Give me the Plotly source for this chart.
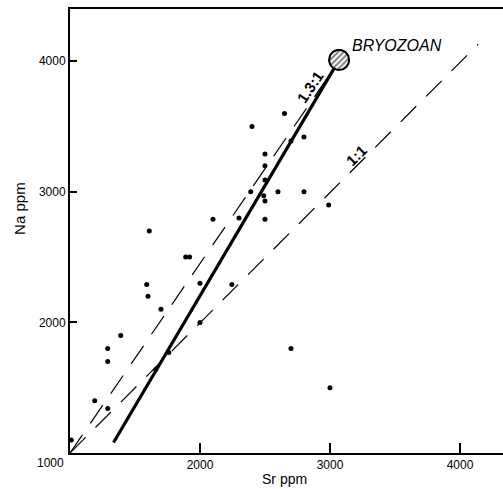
import numpy as np
import plotly.graph_objects as go

# Sample analyses: Sr and Na contents (ppm)
sr_ppm = [1010, 1190, 1290, 1290, 1290, 1390, 1590, 1600, 1610, 1660, 1700,
          1760, 1890, 1920, 2000, 2000, 2100, 2245, 2300, 2390, 2400, 2490,
          2500, 2500, 2500, 2500, 2500, 2600, 2650, 2700, 2700, 2800, 2800,
          2990, 3000]
na_ppm = [1100, 1400, 1340, 1700, 1800, 1900, 2290, 2200, 2700, 1640, 2100,
          1770, 2500, 2500, 2000, 2300, 2790, 2290, 2800, 3000, 3500, 2970,
          2790, 2930, 3090, 3200, 3290, 3000, 3600, 3390, 1800, 3420, 3000,
          2900, 1500]

# Bryozoan end-member composition
bryozoan_sr = 3070
bryozoan_na = 4010

# Reference lines (Sr, Na end points)
line_1to1_sr = [1000, 4140]
line_1to1_na = [1000, 4130]
line_13_sr = [1000, 3030]
line_13_na = [1000, 3945]
trend_sr = [1335, bryozoan_sr]
trend_na = [1080, bryozoan_na]

x_range = [1000, 4331]
y_range = [1000, 4400]
tick_vals = [2000, 3000, 4000]
tick_text = ["2000", "3000", "4000"]

FONT = "Liberation Sans, Arial, sans-serif"

fig = go.Figure()

dash = "22px,14px"
fig.add_trace(go.Scatter(x=line_1to1_sr, y=line_1to1_na, mode="lines",
                         line=dict(color="black", width=1.2, dash=dash),
                         hoverinfo="skip"))
fig.add_trace(go.Scatter(x=line_13_sr, y=line_13_na, mode="lines",
                         line=dict(color="black", width=1.2, dash=dash),
                         hoverinfo="skip"))
fig.add_trace(go.Scatter(x=trend_sr, y=trend_na, mode="lines",
                         line=dict(color="black", width=3.2),
                         hoverinfo="skip"))

fig.add_trace(go.Scatter(x=sr_ppm, y=na_ppm, mode="markers",
                         marker=dict(color="black", size=5),
                         hoverinfo="x+y"))

# Hatched circle for the bryozoan composition (radius in axis units)
r_sr, r_na = 77, 77
theta = np.linspace(0, 2 * np.pi, 73)
fig.add_trace(go.Scatter(
    x=bryozoan_sr + r_sr * np.cos(theta),
    y=bryozoan_na + r_na * np.sin(theta),
    mode="lines", fill="toself",
    line=dict(color="black", width=2),
    fillcolor="white",
    fillpattern=dict(shape="/", size=4, solidity=0.5,
                     fgcolor="black", bgcolor="white"),
    hoverinfo="skip"))

annotations = [
    dict(x=3154, y=4124, text="<i>BRYOZOAN</i>", showarrow=False,
         xanchor="left", yanchor="middle",
         font=dict(family=FONT, size=16, color="black")),
    dict(x=2850, y=3805, text="<b>1.3:1</b>", showarrow=False,
         textangle=-56, font=dict(family=FONT, size=15, color="black")),
    dict(x=3200, y=3282, text="<b>1:1</b>", showarrow=False,
         textangle=-45, font=dict(family=FONT, size=15, color="black")),
    dict(x=1000, y=1000, text="1000", showarrow=False,
         xanchor="center", yanchor="middle", xshift=-20, yshift=-10,
         font=dict(family=FONT, size=12, color="black")),
    dict(xref="paper", yref="paper", x=0.4965, y=-0.0586, text="Sr ppm",
         showarrow=False, xanchor="center", yanchor="middle",
         font=dict(family=FONT, size=14, color="black")),
    dict(xref="paper", yref="paper", x=-0.1155, y=0.552, text="Na ppm",
         showarrow=False, textangle=-90, xanchor="center", yanchor="middle",
         font=dict(family=FONT, size=15, color="black")),
]

fig.update_layout(
    width=503, height=489,
    margin=dict(l=70, r=0, t=9, b=36),
    paper_bgcolor="white", plot_bgcolor="white",
    showlegend=False,
    annotations=annotations,
    font=dict(family=FONT, size=12, color="black"),
    xaxis=dict(range=x_range, tickvals=tick_vals, ticktext=tick_text,
               ticks="inside", ticklen=10, tickwidth=1.5, tickcolor="black",
               showline=True, linecolor="black", linewidth=2, mirror=True,
               showgrid=False, zeroline=False,
               tickfont=dict(family=FONT, size=12, color="black")),
    yaxis=dict(range=y_range, tickvals=tick_vals, ticktext=tick_text,
               ticks="inside", ticklen=7, tickwidth=1.5, tickcolor="black",
               showline=True, linecolor="black", linewidth=2,
               showgrid=False, zeroline=False,
               tickfont=dict(family=FONT, size=12, color="black")),
)

fig.write_html("out.html")
